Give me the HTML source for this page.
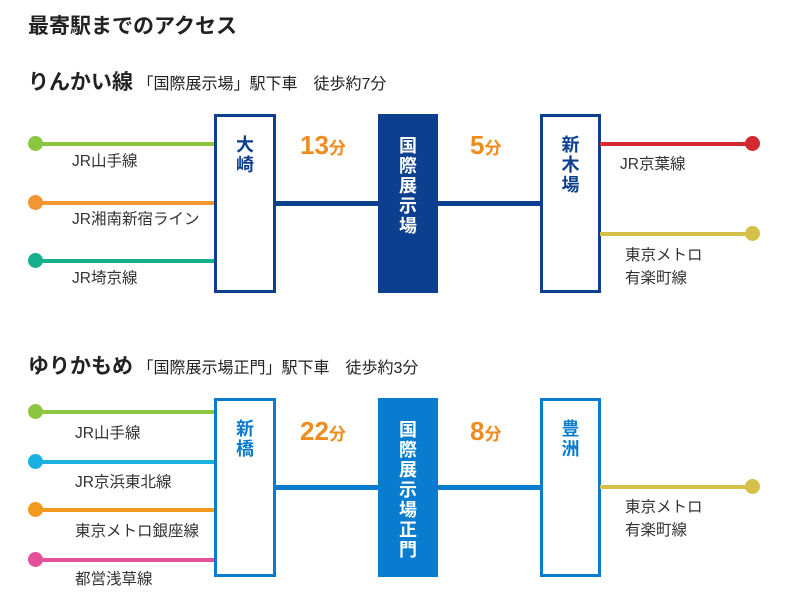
<!DOCTYPE html>
<html><head><meta charset="utf-8"><style>
body{margin:0;background:#fff;width:792px;height:599px;overflow:hidden;font-family:"Liberation Sans","Noto Sans CJK JP",sans-serif;color:#222}
.a{position:absolute}
.ln{position:absolute;height:4px}
.dot{position:absolute;width:15px;height:15px;border-radius:50%}
.lb{position:absolute;font-size:15.5px;color:#333;line-height:23px}
.box{position:absolute;width:55px;height:172px;background:#fff;box-sizing:border-box}
.bt{font-weight:bold;font-size:18px;line-height:20px;text-align:center;width:100%;position:absolute;top:18px;left:0}
.min{position:absolute;color:#f08c1e;font-weight:bold;font-size:26px}
.min span{font-size:17px}
</style></head><body>
<div class="a" style="left:28px;top:10px;font-size:21px;font-weight:bold">最寄駅までのアクセス</div>
<div class="a" style="left:28px;top:66px;font-size:21px;font-weight:bold">りんかい線<span style="font-size:16px;font-weight:normal"> 「国際展示場」駅下車　徒歩約7分</span></div>

<div class="ln" style="left:35px;top:142px;width:182px;background:#8cc63f"></div><div class="dot" style="left:28px;top:136px;background:#8cc63f"></div>
<div class="lb" style="left:72px;top:150px">JR山手線</div>
<div class="ln" style="left:35px;top:201px;width:182px;background:#f39530"></div><div class="dot" style="left:28px;top:195px;background:#f39530"></div>
<div class="lb" style="left:72px;top:208px">JR湘南新宿ライン</div>
<div class="ln" style="left:35px;top:259px;width:182px;background:#16b08c"></div><div class="dot" style="left:28px;top:253px;background:#16b08c"></div>
<div class="lb" style="left:72px;top:267px">JR埼京線</div>
<div class="ln" style="left:275px;top:201px;width:270px;height:5px;background:#0d3f8f"></div>
<div class="box" style="left:214px;top:114px;width:62px;height:179px;border:3px solid #0d3f8f;color:#0d3f8f"><div class="bt">大<br>崎</div></div>
<div class="box" style="left:378px;top:114px;width:60px;height:179px;background:#0d3f8f;color:#fff"><div class="bt" style="top:22px">国<br>際<br>展<br>示<br>場</div></div>
<div class="box" style="left:540px;top:114px;width:61px;height:179px;border:3px solid #0d3f8f;color:#0d3f8f"><div class="bt">新<br>木<br>場</div></div>
<div class="min" style="left:300px;top:130px">13<span>分</span></div>
<div class="min" style="left:470px;top:130px">5<span>分</span></div>
<div class="ln" style="left:600px;top:142px;width:150px;background:#d32a30"></div><div class="dot" style="left:745px;top:136px;background:#d32a30"></div>
<div class="lb" style="left:620px;top:153px">JR京葉線</div>
<div class="ln" style="left:600px;top:232px;width:150px;background:#d6c04a"></div><div class="dot" style="left:745px;top:226px;background:#d6c04a"></div>
<div class="lb" style="left:625px;top:244px">東京メトロ<br>有楽町線</div>

<div class="a" style="left:28px;top:350px;font-size:21px;font-weight:bold">ゆりかもめ<span style="font-size:16px;font-weight:normal"> 「国際展示場正門」駅下車　徒歩約3分</span></div>

<div class="ln" style="left:35px;top:410px;width:182px;background:#8cc63f"></div><div class="dot" style="left:28px;top:404px;background:#8cc63f"></div>
<div class="lb" style="left:75px;top:422px">JR山手線</div>
<div class="ln" style="left:35px;top:460px;width:182px;background:#1ab0e0"></div><div class="dot" style="left:28px;top:454px;background:#1ab0e0"></div>
<div class="lb" style="left:75px;top:471px">JR京浜東北線</div>
<div class="ln" style="left:35px;top:508px;width:182px;background:#f39a1e"></div><div class="dot" style="left:28px;top:502px;background:#f39a1e"></div>
<div class="lb" style="left:75px;top:520px">東京メトロ銀座線</div>
<div class="ln" style="left:35px;top:558px;width:182px;background:#e4509a"></div><div class="dot" style="left:28px;top:552px;background:#e4509a"></div>
<div class="lb" style="left:75px;top:568px">都営浅草線</div>
<div class="ln" style="left:275px;top:485px;width:270px;height:5px;background:#0a7ccf"></div>
<div class="box" style="left:214px;top:398px;width:62px;height:179px;border:3px solid #0a7ccf;color:#0a7ccf"><div class="bt">新<br>橋</div></div>
<div class="box" style="left:378px;top:398px;width:60px;height:179px;background:#0a7ccf;color:#fff"><div class="bt" style="top:22px">国<br>際<br>展<br>示<br>場<br>正<br>門</div></div>
<div class="box" style="left:540px;top:398px;width:61px;height:179px;border:3px solid #0a7ccf;color:#0a7ccf"><div class="bt">豊<br>洲</div></div>
<div class="min" style="left:300px;top:416px">22<span>分</span></div>
<div class="min" style="left:470px;top:416px">8<span>分</span></div>
<div class="ln" style="left:600px;top:485px;width:150px;background:#d6c04a"></div><div class="dot" style="left:745px;top:479px;background:#d6c04a"></div>
<div class="lb" style="left:625px;top:496px">東京メトロ<br>有楽町線</div>
</body></html>
